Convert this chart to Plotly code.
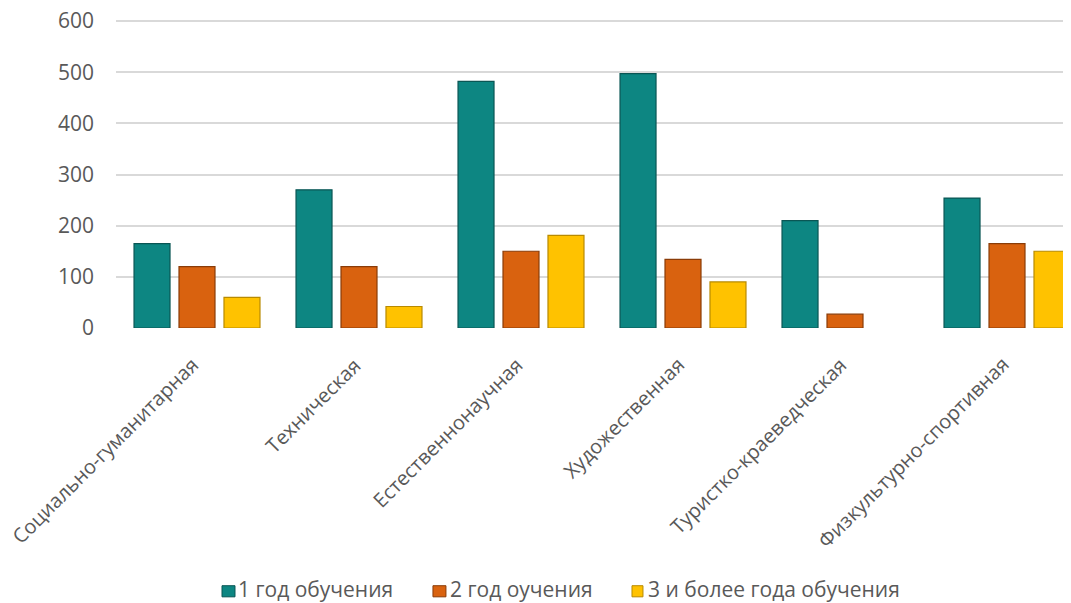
import plotly.graph_objects as go

categories = ["Социально-гуманитарная", "Техническая", "Естественнонаучная",
              "Художественная", "Туристко-краеведческая", "Физкультурно-спортивная"]
series_names = ["1 год обучения", "2 год оучения", "3 и более года обучения"]
year1 = [165, 270, 482, 497, 210, 254]
year2 = [120, 120, 150, 134, 27, 165]
year3 = [60, 42, 181, 90, 0, 150]
y_ticks = [0, 100, 200, 300, 400, 500, 600]

colors = ["#0d8682", "#d9620f", "#ffc200"]
edges = ["#0a5654", "#8a3c08", "#b88a00"]
TXT = "#595959"

fig = go.Figure()
for name, vals, c, e in zip(series_names, [year1, year2, year3], colors, edges):
    widths = [1.2 if v > 0 else 0 for v in vals]
    fig.add_trace(go.Bar(x=categories, y=vals, name=name, showlegend=False,
                         marker=dict(color=c, line=dict(color=e, width=widths))))

# category labels (rotated)
for cat in categories:
    fig.add_annotation(x=cat, xref="x", y=-0.068, yref="paper", text=cat,
                       textangle=-45, xanchor="right", yanchor="top", xshift=10,
                       showarrow=False, font=dict(size=20, color=TXT, family="Open Sans"))

# legend (manual, bottom)
leg_sq = [(0.1110, 0.1246), (0.3319, 0.3455), (0.5403, 0.5518)]
leg_tx = [0.1256, 0.3476, 0.5550]
for (x0, x1), tx, name, c, e in zip(leg_sq, leg_tx, series_names, colors, edges):
    fig.add_shape(type="rect", xref="paper", yref="paper", x0=x0, x1=x1,
                  y0=-0.870, y1=-0.834, fillcolor=c, line=dict(color=e, width=1))
    fig.add_annotation(x=tx, xref="paper", y=-0.846, yref="paper", text=name,
                       xanchor="left", yanchor="middle", showarrow=False,
                       font=dict(size=21, color=TXT, family="Open Sans"))

fig.update_layout(
    width=1063, height=595,
    margin=dict(l=108, r=0, t=11, b=275, autoexpand=False),
    paper_bgcolor="white", plot_bgcolor="white",
    barmode="group", bargap=0.167, bargroupgap=0.2,
    font=dict(family="Open Sans", color=TXT, size=20),
    showlegend=False,
    xaxis=dict(range=[-0.5, 5.395], showticklabels=False, showgrid=False, zeroline=False,
               showline=False, ticks="", automargin=False),
    yaxis=dict(range=[0, 603.9], tickvals=y_ticks, showgrid=True, gridcolor="#d9d9d9",
               gridwidth=1.5, zeroline=False, showline=False, ticks="",
               tickfont=dict(size=21, color=TXT), ticklabelstandoff=21,
               ticklabeloverflow="allow", automargin=False),
)

fig.write_html("out.html")
